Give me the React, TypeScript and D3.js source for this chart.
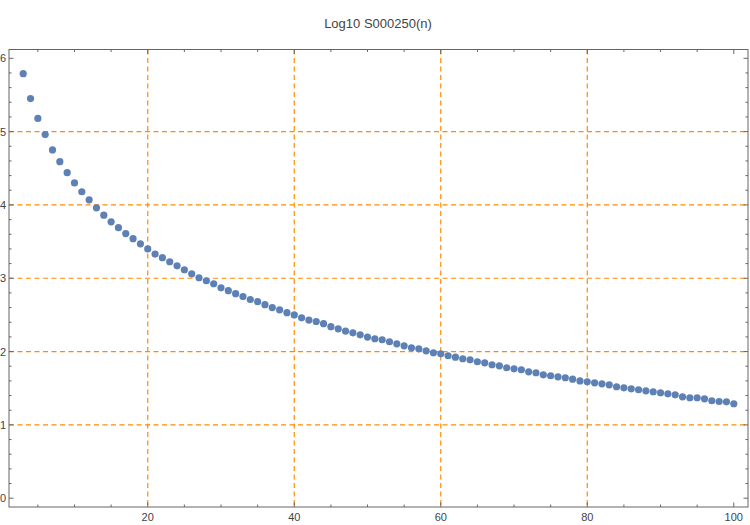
import React from "react";
import * as d3 from "d3";

const title = "Log10 S000250(n)";
const firstN = 3;
// Log10 values, n = 3 .. 100
const values = [
  5.79, 5.45, 5.18, 4.96, 4.75, 4.59, 4.44, 4.30, 4.18, 4.07,
  3.96, 3.86, 3.77, 3.69, 3.61, 3.54, 3.47, 3.40, 3.33, 3.28,
  3.225, 3.17, 3.116, 3.06, 3.007, 2.966, 2.925, 2.87, 2.83, 2.79,
  2.75, 2.71, 2.68, 2.64, 2.60, 2.57, 2.53, 2.50, 2.46, 2.43,
  2.41, 2.38, 2.34, 2.31, 2.28, 2.256, 2.229, 2.197, 2.175, 2.161,
  2.134, 2.106, 2.079, 2.052, 2.038, 2.01, 1.984, 1.97, 1.943, 1.924,
  1.902, 1.888, 1.861, 1.847, 1.82, 1.806, 1.779, 1.765, 1.752, 1.724,
  1.711, 1.683, 1.67, 1.656, 1.643, 1.624, 1.60, 1.588, 1.574, 1.56,
  1.547, 1.52, 1.506, 1.492, 1.479, 1.465, 1.452, 1.438, 1.424, 1.41,
  1.383, 1.37, 1.37, 1.356, 1.329, 1.319, 1.315, 1.288,
];
const xMajor = [20, 40, 60, 80, 100];
const xMinor = [5, 10, 15, 25, 30, 35, 45, 50, 55, 65, 70, 75, 85, 90, 95];
const yMajor = [0, 1, 2, 3, 4, 5, 6];
const xGrid = [20, 40, 60, 80];
const yGrid = [1, 2, 3, 4, 5];

const W = 750;
const H = 525;
const left = 9, right = 748, top = 49.5, bottom = 507;

export default function App() {
  const x = d3.scaleLinear().domain([1.06, 101.94]).range([left, right]);
  const y = d3.scaleLinear().domain([-0.12, 6.12]).range([bottom, top]);
  const yMinor = d3.range(0, 6.1, 0.2).filter(v => Math.abs(v - Math.round(v)) > 0.01);
  const frame = "#666";
  const txt = "#444";
  const font = "'Liberation Sans', Arial, sans-serif";
  const grid = "#ff8c00";

  return (
    <svg width={W} height={H} style={{ position: "absolute", left: 0, top: 0 }}>
      <rect width={W} height={H} fill="white" />
      <text x={378} y={28} textAnchor="middle" fontSize={13} fill={txt} fontFamily={font}>
        {title}
      </text>
      {/* grid */}
      {xGrid.map(v => (
        <line key={"gx" + v} x1={x(v)} x2={x(v)} y1={top} y2={bottom}
          stroke={grid} strokeWidth={1.2} strokeDasharray="5,3.5" />
      ))}
      {yGrid.map(v => (
        <line key={"gy" + v} x1={left} x2={right} y1={y(v)} y2={y(v)}
          stroke={grid} strokeWidth={1.2} strokeDasharray="5,3.5" />
      ))}
      {/* frame */}
      <rect x={left} y={top} width={right - left} height={bottom - top}
        fill="none" stroke={frame} strokeWidth={1} />
      {/* x ticks */}
      {xMajor.map(v => (
        <g key={"xt" + v}>
          <line x1={x(v)} x2={x(v)} y1={bottom} y2={bottom - 4.5} stroke={frame} />
          <line x1={x(v)} x2={x(v)} y1={top} y2={top + 4.5} stroke={frame} />
          <text x={x(v)} y={521} textAnchor="middle" fontSize={11} fill={txt} fontFamily={font}>{v}</text>
        </g>
      ))}
      {xMinor.map(v => (
        <g key={"xm" + v}>
          <line x1={x(v)} x2={x(v)} y1={bottom} y2={bottom - 2.5} stroke={frame} />
          <line x1={x(v)} x2={x(v)} y1={top} y2={top + 2.5} stroke={frame} />
        </g>
      ))}
      {/* y ticks */}
      {yMajor.map(v => (
        <g key={"yt" + v}>
          <line x1={left} x2={left + 4.5} y1={y(v)} y2={y(v)} stroke={frame} />
          <line x1={right} x2={right - 4.5} y1={y(v)} y2={y(v)} stroke={frame} />
          <text x={6} y={y(v) + 4} textAnchor="end" fontSize={11} fill={txt} fontFamily={font}>{v}</text>
        </g>
      ))}
      {yMinor.map(v => (
        <g key={"ym" + v.toFixed(1)}>
          <line x1={left} x2={left + 2.5} y1={y(v)} y2={y(v)} stroke={frame} />
          <line x1={right} x2={right - 2.5} y1={y(v)} y2={y(v)} stroke={frame} />
        </g>
      ))}
      {/* points */}
      {values.map((v, i) => (
        <circle key={"p" + i} cx={x(firstN + i)} cy={y(v)} r={3.6} fill="#5e81b5" />
      ))}
    </svg>
  );
}
